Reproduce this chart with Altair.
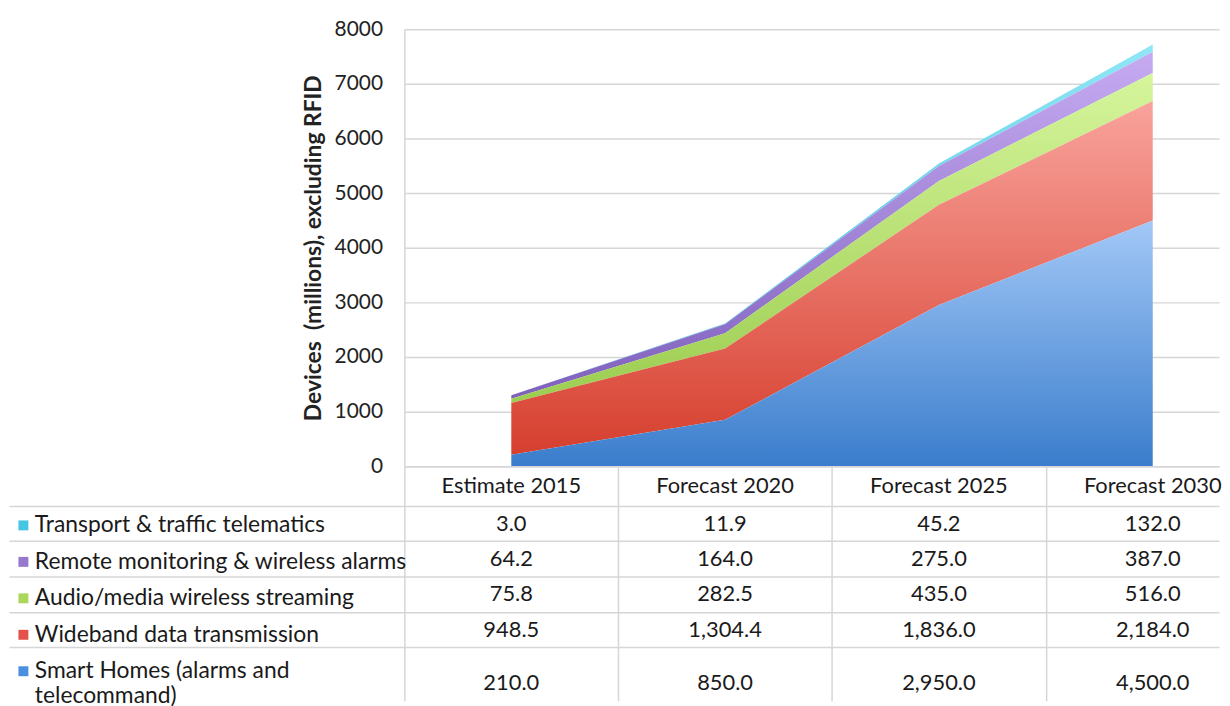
import json
import altair as alt
import pandas as pd

CATEGORIES = ["Estimate 2015", "Forecast 2020", "Forecast 2025", "Forecast 2030"]
SERIES = [
    "Transport & traffic telematics",
    "Remote monitoring & wireless alarms",
    "Audio/media wireless streaming",
    "Wideband data transmission",
    "Smart Homes (alarms and telecommand)",
]
# wrapped label lines as shown in the table (second line centred under the first)
LABEL_LINES = [
    ["Transport & traffic telematics"],
    ["Remote monitoring & wireless alarms"],
    ["Audio/media wireless streaming"],
    ["Wideband data transmission"],
    ["Smart Homes (alarms and", "\u2007" * 4 + "telecommand)"],
]
TRANSPORT = [3.0, 11.9, 45.2, 132.0]
REMOTE = [64.2, 164.0, 275.0, 387.0]
AUDIO = [75.8, 282.5, 435.0, 516.0]
WIDEBAND = [948.5, 1304.4, 1836.0, 2184.0]
SMART = [210.0, 850.0, 2950.0, 4500.0]
VALUES = [TRANSPORT, REMOTE, AUDIO, WIDEBAND, SMART]
Y_TICKS = [0, 1000, 2000, 3000, 4000, 5000, 6000, 7000, 8000]
Y_TITLE = "Devices \u00a0(millions), excluding RFID"

LEGEND_COLORS = ["#45c6e2", "#9479cc", "#aad65c", "#e4524c", "#4a8fe0"]
GRADIENTS = [
    ("#3cc0dc", "#90e6f5"),
    ("#7f61bd", "#c6abf2"),
    ("#9ccd50", "#d6f59c"),
    ("#d63f2e", "#f9a39c"),
    ("#3a7dcc", "#a3c8f7"),
]

FONT = "Lato"
GRID = "#d6d6d6"
TXT = "#1a1a1a"
HEADER_SPAN = 1.12  # header row is a little taller than a data row

# ---- build tables ----
rows = []
row_top = HEADER_SPAN
row_tops = []
for i, s in enumerate(SERIES):
    span = len(LABEL_LINES[i])
    row_tops.append(row_top)
    for j, c in enumerate(CATEGORIES):
        rows.append(dict(series=s, cat=c, idx=j, value=VALUES[i][j],
                         stack_order=len(SERIES) - 1 - i,
                         row_mid=row_top + span / 2.0))
    row_top += span
df = pd.DataFrame(rows)
hdf = pd.DataFrame(dict(cat=CATEGORIES, idx=list(range(len(CATEGORIES))),
                        row_mid=[HEADER_SPAN / 2.0] * len(CATEGORIES)))

x_dom = [-0.5, 3.31]
W = 820

# ---- top: stacked area ----
y_axis = alt.Axis(values=Y_TICKS, format="d", title=Y_TITLE, grid=True, gridColor=GRID, gridWidth=1.5,
                  ticks=False, labelPadding=22, labelFontSize=21, labelFont=FONT, labelColor="#222222",
                  titleFont=FONT, titleFontSize=23, titleFontWeight="bold", titleColor="#222222",
                  titlePadding=9, domainColor=GRID, domainWidth=1.5)

base = alt.Chart(df).transform_stack(
    stack="value", groupby=["cat"], as_=["v0", "v1"],
    sort=[alt.SortField("stack_order", order="ascending")],
)
layers = []
for i, s in enumerate(SERIES):
    dark, light = GRADIENTS[i]
    grad = alt.Gradient(gradient="linear",
                        stops=[alt.GradientStop(color=dark, offset=0), alt.GradientStop(color=light, offset=1)],
                        x1=0, x2=0, y1=1, y2=0)
    layers.append(
        base.transform_filter(alt.datum.series == s).mark_area(color=grad).encode(
            x=alt.X("idx:Q", scale=alt.Scale(domain=x_dom, nice=False, zero=False), axis=None),
            y=alt.Y("v1:Q", scale=alt.Scale(domain=[0, 8000], nice=False), axis=y_axis),
            y2="v0:Q",
        )
    )
top = alt.layer(*layers).properties(width=W, height=440)

# ---- bottom: data table ----
TABLE_H = 236
UNIT = 35.6
x_tab = alt.X("idx:Q", scale=alt.Scale(domain=x_dom, nice=False, zero=False),
              axis=alt.Axis(orient="top", values=[0.5, 1.5, 2.5], grid=True, gridColor=GRID, gridWidth=1.5,
                            labels=False, ticks=False, domain=True, domainColor=GRID, domainWidth=1.5,
                            title=None))
y_tab = alt.Y("row_mid:Q", scale=alt.Scale(domain=[0, TABLE_H / UNIT], reverse=True, nice=False, zero=False),
              axis=alt.Axis(values=row_tops, grid=True, gridColor=GRID, gridWidth=1.5, labels=False,
                            ticks=True, tickSize=398, tickColor=GRID, tickWidth=1.5,
                            domain=True, domainColor=GRID, domainWidth=1.5, title=None))

cells = alt.Chart(df).mark_text(font=FONT, fontSize=22, color=TXT).encode(
    x=x_tab, y=y_tab, text=alt.Text("value:Q", format=",.1f"))
header = alt.Chart(hdf).mark_text(font=FONT, fontSize=22, color=TXT).encode(
    x=x_tab, y=y_tab, text="cat:N")

label_expr = " : ".join(
    [f"datum.label == {json.dumps(s)} ? {json.dumps(lines)}"
     for s, lines in zip(SERIES, LABEL_LINES) if len(lines) > 1]
) + " : datum.label"

legend_marks = alt.Chart(df).mark_square(opacity=0).encode(
    x=x_tab, y=y_tab,
    color=alt.Color("series:N", scale=alt.Scale(domain=SERIES, range=LEGEND_COLORS),
                    legend=alt.Legend(orient="none", legendX=-395, legendY=488, title=None,
                                      symbolType="square", symbolSize=100, symbolOpacity=1,
                                      symbolStrokeWidth=0, labelFont=FONT, labelFontSize=23,
                                      labelColor=TXT, labelLimit=1000, rowPadding=12.7,
                                      labelOffset=0, labelExpr=label_expr)),
)
table = alt.layer(cells, header, legend_marks).properties(width=W, height=TABLE_H)

chart = alt.vconcat(top, table, spacing=0, bounds="flush").resolve_scale(y="independent").properties(
    padding={"left": 0, "top": 8, "right": 0, "bottom": 0}
).configure_view(strokeWidth=0)

chart.save("out.html", embed_options={"renderer": "svg", "actions": False})
